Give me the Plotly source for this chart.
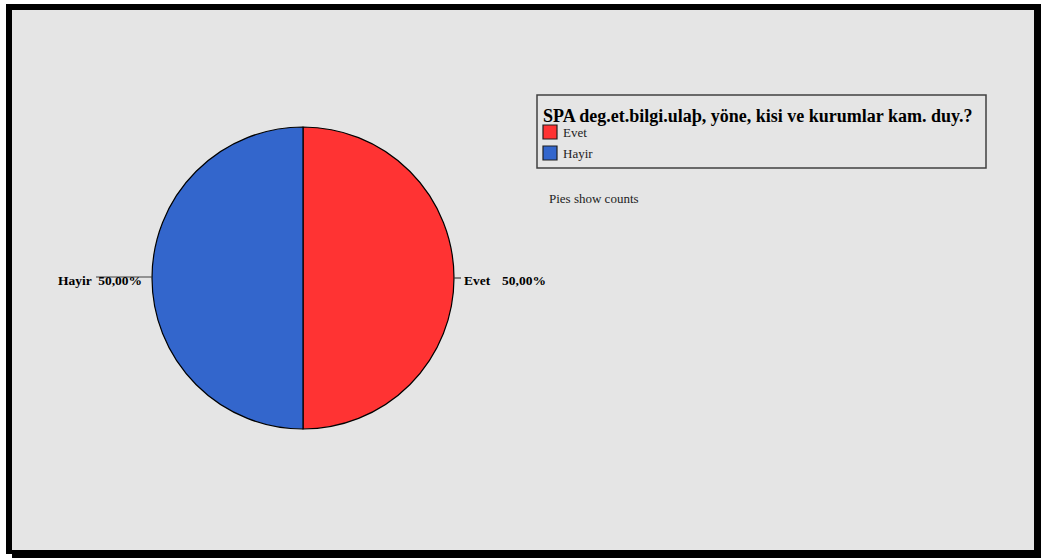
import plotly.graph_objects as go

# Survey answers and their counts
categories = ["Evet", "Hayir"]
counts = [25, 25]
slice_colors = ["#ff3333", "#3366cc"]
question = "SPA deg.et.bilgi.ulaþ, yöne, kisi ve kurumlar kam. duy.?"
footnote = "Pies show counts"

W, H = 1041, 558
SERIF = "Liberation Serif, Times New Roman, serif"


def px(x):
    return x / W


def py(y):
    return 1 - y / H


# Pie geometry in pixels
cx, cy, r = 303, 278, 151

total = sum(counts)
percents = [100.0 * c / total for c in counts]
pct_text = [f"{p:.2f}".replace(".", ",") + "%" for p in percents]

fig = go.Figure()

fig.add_trace(go.Pie(
    labels=categories,
    values=counts,
    sort=False,
    direction="clockwise",
    rotation=0,
    marker=dict(colors=slice_colors, line=dict(color="black", width=1.2)),
    textinfo="none",
    hovertemplate="%{label}: %{value}<extra></extra>",
    domain=dict(x=[px(cx - r), px(cx + r)], y=[py(cy + r), py(cy - r)]),
    showlegend=False,
))

shapes = [
    # frame with drop shadow
    dict(type="rect", xref="paper", yref="paper", x0=px(6), x1=px(1041), y0=py(558), y1=py(4),
         fillcolor="black", line=dict(width=0), layer="below"),
    dict(type="rect", xref="paper", yref="paper", x0=px(0), x1=px(12), y0=py(558), y1=py(554),
         fillcolor="white", line=dict(width=0), layer="below"),
    dict(type="rect", xref="paper", yref="paper", x0=px(12), x1=px(1034), y0=py(550), y1=py(10),
         fillcolor="#e5e5e5", line=dict(width=0), layer="below"),
    # leader lines
    dict(type="line", xref="paper", yref="paper", x0=px(cx + r), x1=px(461), y0=py(cy), y1=py(cy),
         line=dict(color="#404040", width=1.2)),
    dict(type="line", xref="paper", yref="paper", x0=px(cx - r), x1=px(96), y0=py(cy - 1), y1=py(cy - 1),
         line=dict(color="#404040", width=1.2)),
    # legend box
    dict(type="rect", xref="paper", yref="paper", x0=px(537), x1=px(986), y0=py(168), y1=py(95),
         line=dict(color="#404040", width=1.5), fillcolor="rgba(0,0,0,0)"),
]

annotations = [
    dict(text=f"<b>{categories[0]}</b>", x=px(462), y=py(280), xref="paper", yref="paper",
         xanchor="left", yanchor="middle", showarrow=False,
         font=dict(family=SERIF, size=13.5, color="black")),
    dict(text=f"<b>{pct_text[0]}</b>", x=px(500), y=py(280), xref="paper", yref="paper",
         xanchor="left", yanchor="middle", showarrow=False,
         font=dict(family=SERIF, size=13.5, color="black")),
    dict(text=f"<b>{categories[1]}  {pct_text[1]}</b>", x=px(144), y=py(280), xref="paper", yref="paper",
         xanchor="right", yanchor="middle", showarrow=False,
         font=dict(family=SERIF, size=13.5, color="black")),
    dict(text=footnote, x=px(547), y=py(198), xref="paper", yref="paper",
         xanchor="left", yanchor="middle", showarrow=False,
         font=dict(family=SERIF, size=13, color="#222222")),
    # legend title
    dict(text=f"<b>{question}</b>", x=px(541), y=py(116), xref="paper", yref="paper",
         xanchor="left", yanchor="middle", showarrow=False,
         font=dict(family=SERIF, size=18, color="black")),
]

# legend entries: swatch + label
for i, (cat, col) in enumerate(zip(categories, slice_colors)):
    top = 125 + 21 * i
    shapes.append(dict(type="rect", xref="paper", yref="paper",
                       x0=px(543), x1=px(557), y0=py(top + 14), y1=py(top),
                       fillcolor=col, line=dict(color="#202020", width=1.2)))
    annotations.append(dict(text=cat, x=px(561), y=py(top + 7), xref="paper", yref="paper",
                            xanchor="left", yanchor="middle", showarrow=False,
                            font=dict(family=SERIF, size=13, color="#222222")))

fig.update_layout(
    width=W, height=H,
    margin=dict(l=0, r=0, t=0, b=0),
    paper_bgcolor="white",
    plot_bgcolor="rgba(0,0,0,0)",
    shapes=shapes,
    annotations=annotations,
    showlegend=False,
)

fig.write_html("out.html")
